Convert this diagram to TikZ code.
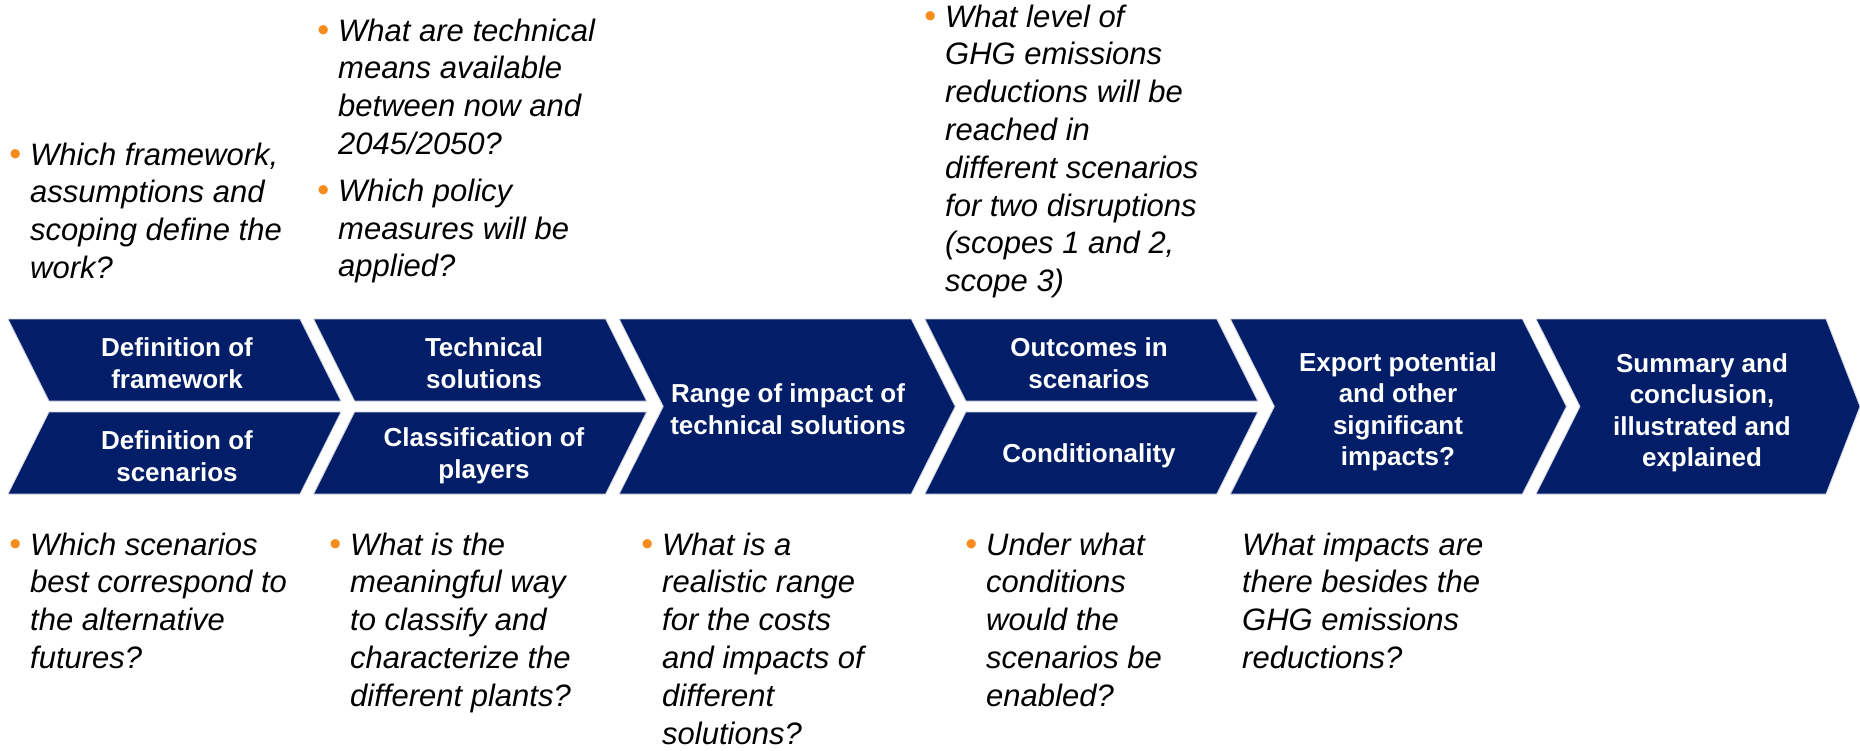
\documentclass[tikz,border=0pt]{standalone}
\usepackage{fontspec}
\setmainfont{Liberation Sans}
\definecolor{navy}{RGB}{2,30,104}
\definecolor{rimgray}{RGB}{205,210,222}
\definecolor{dotorange}{RGB}{247,140,30}
\newcommand{\stagefont}{\fontsize{26}{31.5}\selectfont\bfseries}
\newcommand{\askfont}{\fontsize{31}{37.8}\selectfont\itshape}
\newcommand{\qdot}{\makebox[0pt][r]{\textcolor{dotorange}{\fontsize{34}{34}\selectfont\upshape\textbullet}\hspace{9pt}}}

\begin{document}
\begin{tikzpicture}[x=1pt,y=-1pt,
    chevron/.style={fill=navy,draw=rimgray,line width=0.8pt},
    stage/.style={text=white,font=\stagefont,align=center,inner sep=0pt},
    question/.style={anchor=north west,inner sep=0pt,align=left,font=\askfont}]
  \useasboundingbox (0,0) rectangle (1860,750);
  % chevron bar
  \draw[chevron] (8,319) -- (300,319) -- (341,401) -- (49,401) -- cycle;
  \draw[chevron] (49,412) -- (341,412) -- (300,494) -- (8,494) -- cycle;
  \draw[chevron] (313.6,319) -- (605.6,319) -- (646.6,401) -- (354.6,401) -- cycle;
  \draw[chevron] (354.6,412) -- (646.6,412) -- (605.6,494) -- (313.6,494) -- cycle;
  \draw[chevron] (619.2,319) -- (911.2,319) -- (955.2,406.5) -- (911.2,494)
    -- (619.2,494) -- (663.2,406.5) -- cycle;
  \draw[chevron] (924.8,319) -- (1216.8,319) -- (1257.8,401) -- (965.8,401) -- cycle;
  \draw[chevron] (965.8,412) -- (1257.8,412) -- (1216.8,494) -- (924.8,494) -- cycle;
  \draw[chevron] (1230.4,319) -- (1522.4,319) -- (1566.4,406.5) -- (1522.4,494)
    -- (1230.4,494) -- (1274.4,406.5) -- cycle;
  \draw[chevron] (1536,319) -- (1826,319) -- (1860,406.5) -- (1826,494)
    -- (1536,494) -- (1580,406.5) -- cycle;
  % stage labels
  \node[stage] (frame) at (177,363) {Definition of\\framework};
  \node[stage] (scen) at (177,456) {Definition of\\scenarios};
  \node[stage] (tech) at (484,363) {Technical\\solutions};
  \node[stage] (players) at (484,456) {Classification of\\players};
  \node[stage] (range) at (788,409) {Range of impact of\\technical solutions};
  \node[stage] (outcome) at (1089,363) {Outcomes in\\scenarios};
  \node[stage] (cond) at (1089,456) {Conditionality};
  \node[stage] (export) at (1398,412) {Export potential\\and other\\significant\\impacts?};
  \node[stage] (summary) at (1702,413) {Summary and\\conclusion,\\illustrated and\\explained};
  % questions above
  \node[question] (qframe) at (30,142.5) {\qdot Which framework,\\assumptions and\\scoping define the\\work?};
  \node[question] (qtech) at (338,18.5) {\qdot What are technical\\means available\\between now and\\2045/2050?\\[9pt]
    \qdot Which policy\\measures will be\\applied?};
  \node[question] (qghg) at (945,4.5) {\qdot What level of\\GHG emissions\\reductions will be\\reached in\\different scenarios\\for two disruptions\\(scopes 1 and 2,\\scope 3)};
  % questions below
  \node[question] (qscen) at (30,532.5) {\qdot Which scenarios\\best correspond to\\the alternative\\futures?};
  \node[question] (qplants) at (350,532.5) {\qdot What is the\\meaningful way\\to classify and\\characterize the\\different plants?};
  \node[question] (qrange) at (662,532.5) {\qdot What is a\\realistic range\\for the costs\\and impacts of\\different\\solutions?};
  \node[question] (qcond) at (986,532.5) {\qdot Under what\\conditions\\would the\\scenarios be\\enabled?};
  \node[question] (qexport) at (1242,532.5) {What impacts are\\there besides the\\GHG emissions\\reductions?};
\end{tikzpicture}
\end{document}
